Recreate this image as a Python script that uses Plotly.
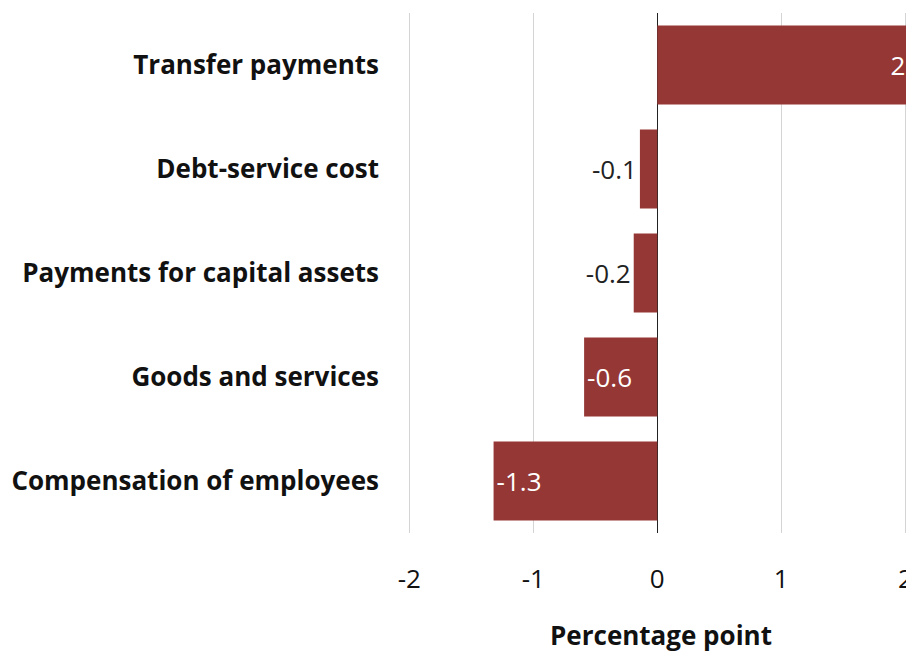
import plotly.graph_objects as go

categories = [
    "Transfer payments",
    "Debt-service cost",
    "Payments for capital assets",
    "Goods and services",
    "Compensation of employees",
]
values = [2.2, -0.14, -0.19, -0.59, -1.32]
tick_vals = [-2, -1, 0, 1, 2]
tick_text = ["-2", "-1", "0", "1", "2"]

bar_color = "#953735"
font_family = "'Open Sans', Lato, sans-serif"
label_text = [f"{v:.1f}" for v in values]

fig = go.Figure(
    go.Bar(
        x=values,
        y=categories,
        orientation="h",
        marker={"color": bar_color, "line": {"width": 0}},
        text=label_text,
        textposition="auto",
        insidetextanchor="end",
        insidetextfont={"color": "white", "size": 26, "family": font_family},
        outsidetextfont={"color": "#222222", "size": 26, "family": font_family},
        cliponaxis=True,
        hoverinfo="skip",
    )
)

# page body adds an 8px offset, so the figure is drawn 8px smaller
fig.update_layout(
    width=906,
    height=645,
    margin={"l": 400, "r": 0, "t": 5, "b": 120},
    plot_bgcolor="white",
    paper_bgcolor="white",
    bargap=0.24,
    showlegend=False,
    font={"family": font_family, "size": 26, "color": "#111111"},
)

fig.update_xaxes(
    range=[-2.01, 2.07],
    tickvals=tick_vals,
    ticktext=tick_text,
    automargin=False,
    showgrid=True,
    gridcolor="#d4d4d4",
    gridwidth=1.3,
    zeroline=True,
    zerolinecolor="#222222",
    zerolinewidth=1.3,
    showline=False,
    ticks="",
    ticklabelstandoff=28,
    tickfont={"size": 26, "color": "#111111"},
    title={
        "text": "<b>Percentage point</b>",
        "standoff": 34,
        "font": {"size": 26, "color": "#111111"},
    },
)

fig.update_yaxes(
    autorange="reversed",
    automargin=False,
    showgrid=False,
    showline=False,
    ticks="",
    ticklabelstandoff=28,
    tickfont={"size": 26, "color": "#111111", "weight": "bold"},
)

fig.write_html("out.html")
